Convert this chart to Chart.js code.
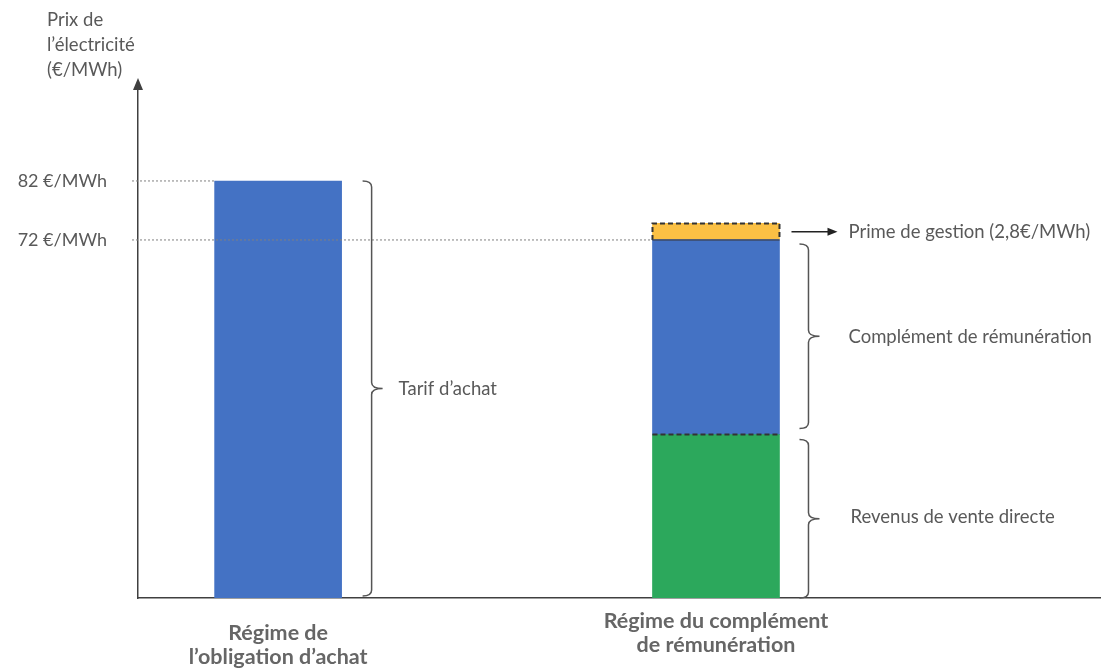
<!DOCTYPE html>
<html>
<head>
<meta charset="utf-8">
<script src="https://cdn.jsdelivr.net/npm/chart.js@4.4.1/dist/chart.umd.min.js"></script>
<style>
  html, body { margin: 0; padding: 0; background: #fff; }
  #wrap { width: 1106px; height: 669px; position: relative; }
</style>
</head>
<body>
<div id="wrap"><canvas id="prixChart"></canvas></div>
<script>
// categories (one bar each)
const regimes = [
    ['Régime de', 'l’obligation d’achat'],
    ['Régime du complément', 'de rémunération']
];
// series values (€/MWh)
const tarifAchat = [82, null];
const venteDirecte = [null, 39];
const complement = [null, 33];
const primeGestion = [null, 2.8];
// y tick labels
const yTicks = [72, 82];
const yTitle = ['Prix de', 'l’électricité', '(€/MWh)'];

const FONT = 'Lato, "Open Sans", sans-serif';
const GREY = '#595959';

const toPoints = arr => arr.map((v, i) => ({ x: i + 1, y: v }));

function brace(ctx, x, y0, y1) {
    const m = (y0 + y1) / 2, r = 6;
    ctx.beginPath();
    ctx.moveTo(x - 9, y0);
    ctx.quadraticCurveTo(x, y0, x, y0 + r);
    ctx.lineTo(x, m - r);
    ctx.quadraticCurveTo(x, m, x + 11, m);
    ctx.quadraticCurveTo(x, m, x, m + r);
    ctx.lineTo(x, y1 - r);
    ctx.quadraticCurveTo(x, y1, x - 9, y1);
    ctx.stroke();
}

const annotations = {
    id: 'annotations',
    afterDraw(chart) {
        const { ctx, chartArea, scales: { x, y } } = chart;
        const bar1 = chart.getDatasetMeta(0).data[0].getProps(['x', 'y', 'base', 'width'], true);
        const green = chart.getDatasetMeta(1).data[1].getProps(['x', 'y', 'base', 'width'], true);
        const blue = chart.getDatasetMeta(2).data[1].getProps(['x', 'y', 'base', 'width'], true);
        const prime = chart.getDatasetMeta(3).data[1].getProps(['x', 'y', 'base', 'width'], true);
        const bottom = chartArea.bottom;
        const l1 = bar1.x - bar1.width / 2, r1 = bar1.x + bar1.width / 2;
        const l2 = blue.x - blue.width / 2, r2 = blue.x + blue.width / 2;

        ctx.save();

        // y axis arrow
        ctx.fillStyle = '#404040';
        ctx.beginPath();
        ctx.moveTo(chartArea.left, chartArea.top - 8);
        ctx.lineTo(chartArea.left - 5, chartArea.top + 4);
        ctx.lineTo(chartArea.left + 5, chartArea.top + 4);
        ctx.closePath();
        ctx.fill();

        // axis title
        ctx.fillStyle = GREY;
        ctx.font = '18.5px ' + FONT;
        ctx.textAlign = 'left';
        ctx.textBaseline = 'middle';
        yTitle.forEach((t, i) => ctx.fillText(t, 47, 20 + i * 25));

        // dotted reference lines
        ctx.strokeStyle = '#7f7f7f';
        ctx.lineWidth = 1;
        ctx.setLineDash([2, 2]);
        ctx.beginPath();
        ctx.moveTo(chartArea.left - 6, y.getPixelForValue(82));
        ctx.lineTo(l1, y.getPixelForValue(82));
        ctx.moveTo(chartArea.left - 6, y.getPixelForValue(72));
        ctx.lineTo(l2, y.getPixelForValue(72));
        ctx.stroke();

        // dashed boundary green / blue
        ctx.strokeStyle = '#333';
        ctx.lineWidth = 2;
        ctx.setLineDash([5, 3]);
        ctx.beginPath();
        ctx.moveTo(l2, green.y);
        ctx.lineTo(r2, green.y);
        ctx.stroke();

        // dashed outline around prime
        ctx.beginPath();
        ctx.moveTo(l2, prime.base);
        ctx.lineTo(l2, prime.y);
        ctx.lineTo(r2, prime.y);
        ctx.lineTo(r2, prime.base);
        ctx.stroke();
        ctx.setLineDash([]);
        ctx.lineWidth = 1.5;
        ctx.strokeStyle = '#3d4a66';
        ctx.beginPath();
        ctx.moveTo(l2, prime.base);
        ctx.lineTo(r2, prime.base);
        ctx.stroke();

        // arrow to prime label
        const pm = (prime.y + prime.base) / 2;
        ctx.strokeStyle = '#222';
        ctx.fillStyle = '#222';
        ctx.lineWidth = 1.5;
        ctx.beginPath();
        ctx.moveTo(r2 + 12, pm);
        ctx.lineTo(r2 + 50, pm);
        ctx.stroke();
        ctx.beginPath();
        ctx.moveTo(r2 + 58, pm);
        ctx.lineTo(r2 + 48, pm - 4);
        ctx.lineTo(r2 + 48, pm + 4);
        ctx.closePath();
        ctx.fill();

        // braces
        ctx.strokeStyle = '#555';
        ctx.lineWidth = 1.5;
        brace(ctx, r1 + 30, bar1.y, bottom - 2);
        brace(ctx, r2 + 29, blue.y + 4, blue.base - 6);
        brace(ctx, r2 + 29, green.y + 5, bottom);

        // labels
        ctx.fillStyle = GREY;
        ctx.font = '18.5px ' + FONT;
        ctx.fillText('Tarif d’achat', r1 + 57, (bar1.y + bottom) / 2);
        ctx.fillText('Prime de gestion (2,8€/MWh)', r2 + 69, pm);
        ctx.fillText('Complément de rémunération', r2 + 69, (blue.y + blue.base) / 2);
        ctx.fillText('Revenus de vente directe', r2 + 71, (green.y + bottom) / 2 + 1);

        // category labels
        ctx.font = 'bold 21.5px ' + FONT;
        ctx.fillStyle = '#666';
        ctx.textAlign = 'center';
        const offs = [35, 23];
        regimes.forEach((lines, i) => {
            const px = x.getPixelForValue(i + 1);
            lines.forEach((t, j) => ctx.fillText(t, px, bottom + offs[i] + j * 24.5));
        });

        ctx.restore();
    }
};

const prixChart = new Chart(document.getElementById('prixChart').getContext('2d'), {
    type: 'bar',
    data: {
        datasets: [
            { label: 'Tarif d’achat', data: toPoints(tarifAchat), backgroundColor: '#4472C4' },
            { label: 'Revenus de vente directe', data: toPoints(venteDirecte), backgroundColor: '#2CA85C' },
            { label: 'Complément de rémunération', data: toPoints(complement), backgroundColor: '#4472C4' },
            { label: 'Prime de gestion', data: toPoints(primeGestion), backgroundColor: '#FBC044' }
        ]
    },
    options: {
        responsive: true,
        maintainAspectRatio: false,
        animation: false,
        layout: { padding: { top: 86, right: 6, bottom: 71, left: 0 } },
        datasets: { bar: { barThickness: 127 } },
        plugins: {
            legend: { display: false },
            tooltip: { enabled: false }
        },
        scales: {
            x: {
                type: 'linear',
                stacked: true,
                offset: false,
                min: 0.68,
                max: 2.877,
                grid: { display: false, offset: false },
                ticks: { display: false },
                border: { color: '#404040', width: 1.5 },
                afterFit: s => { s.height = 0; }
            },
            y: {
                stacked: true,
                min: 11.3,
                max: 98.1,
                grid: { display: false, drawTicks: false },
                border: { color: '#404040', width: 1.5 },
                afterBuildTicks: s => { s.ticks = yTicks.map(v => ({ value: v })); },
                afterFit: s => { s.width = 138; },
                ticks: {
                    padding: 31,
                    color: GREY,
                    font: { size: 18, family: FONT },
                    callback: v => v + ' €/MWh'
                }
            }
        }
    },
    plugins: [annotations]
});
</script>
</body>
</html>
